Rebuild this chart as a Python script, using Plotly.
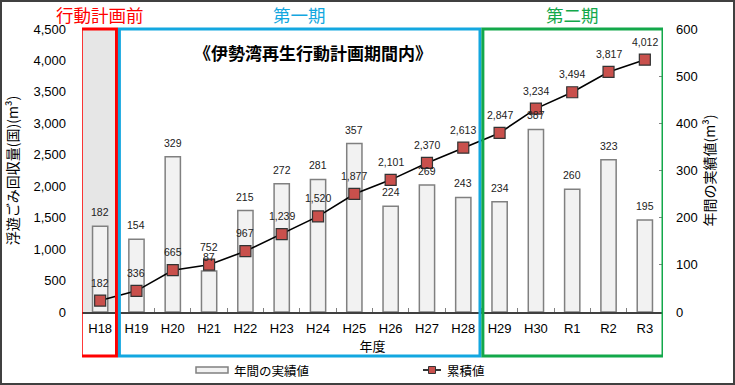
import plotly.graph_objects as go

years = ["H18", "H19", "H20", "H21", "H22", "H23", "H24", "H25",
         "H26", "H27", "H28", "H29", "H30", "R1", "R2", "R3"]
annual = [182, 154, 329, 87, 215, 272, 281, 357, 224, 269, 243, 234, 387, 260, 323, 195]
cumulative = [182, 336, 665, 752, 967, 1239, 1520, 1877, 2101, 2370, 2613,
              2847, 3234, 3494, 3817, 4012]
left_ticks = [0, 500, 1000, 1500, 2000, 2500, 3000, 3500, 4000, 4500]
right_ticks = [0, 100, 200, 300, 400, 500, 600]

W, H = 735, 385
ML, MR, MT, MB = 82, 72, 29, 73
PW, PH = W - ML - MR, H - MT - MB

def px(x):
    return (x - ML) / PW

def py(y):
    return 1 - (y - MT) / PH

FONT = "Liberation Sans, Arial, Noto Sans CJK JP, sans-serif"
JP = "Noto Sans CJK JP, sans-serif"
LABEL_FONT = dict(size=10.5, color="#222", family=FONT)

fig = go.Figure()
# bars on primary y (right side, annual), line on overlaying y2 (left side, cumulative)
fig.add_trace(go.Bar(
    x=years, y=annual, yaxis="y", name="年間の実績値",
    width=0.42,
    marker=dict(color="#f2f2f2", line=dict(color="#808080", width=1.5)),
    showlegend=False,
))
fig.add_trace(go.Scatter(
    x=years, y=cumulative, yaxis="y2", name="累積値",
    mode="lines+markers",
    line=dict(color="black", width=1.6),
    marker=dict(symbol="square", size=11, color="#c9504c",
                line=dict(color="#333", width=1.2)),
    cliponaxis=False, showlegend=False,
))

shapes = []
shapes.append(dict(type="rect", xref="x", yref="paper", x0=-0.5, x1=0.5, y0=0, y1=1,
                   fillcolor="#e6e6e6", line=dict(width=0), layer="below"))
ybot = py(356)
shapes.append(dict(type="rect", xref="x", yref="paper", x0=-0.5 - 0.02, x1=0.45, y0=ybot, y1=1,
                   line=dict(color="#ff0000", width=3)))
shapes.append(dict(type="rect", xref="x", yref="paper", x0=0.53, x1=10.46, y0=ybot, y1=1,
                   line=dict(color="#13a7e0", width=3)))
shapes.append(dict(type="rect", xref="x", yref="paper", x0=10.54, x1=15.5, y0=ybot, y1=1,
                   line=dict(color="#13a84a", width=3)))
shapes.append(dict(type="rect", xref="paper", yref="paper", x0=px(1), x1=px(734),
                   y0=py(384), y1=py(1), line=dict(color="#404040", width=2)))
shapes.append(dict(type="rect", xref="paper", yref="paper", x0=px(196), x1=px(228),
                   y0=py(373), y1=py(367), fillcolor="#f2f2f2",
                   line=dict(color="#808080", width=1.5)))
shapes.append(dict(type="line", xref="paper", yref="paper", x0=px(423), x1=px(441),
                   y0=py(370), y1=py(370), line=dict(color="black", width=1.6)))
shapes.append(dict(type="rect", xref="paper", yref="paper", x0=px(428.5), x1=px(435.5),
                   y0=py(373.5), y1=py(366.5), fillcolor="#c9504c",
                   line=dict(color="#333", width=1)))

annotations = [
    dict(text="行動計画前", x=0, xref="x", y=py(14), yref="paper", showarrow=False,
         xanchor="center", yanchor="middle",
         font=dict(size=17.5, color="#ff0000", family=JP)),
    dict(text="第一期", x=5.5, xref="x", y=py(14), yref="paper", showarrow=False,
         xanchor="center", yanchor="middle",
         font=dict(size=17.5, color="#13a7e0", family=JP)),
    dict(text="第二期", x=13, xref="x", y=py(14), yref="paper", showarrow=False,
         xanchor="center", yanchor="middle",
         font=dict(size=17.5, color="#13a84a", family=JP)),
    dict(text="<b>《伊勢湾再生行動計画期間内》</b>", x=px(313), xref="paper", y=py(52),
         yref="paper", showarrow=False, xanchor="center", yanchor="middle",
         font=dict(size=17, color="black", family=JP)),
    dict(text="年間の実績値", x=px(232), xref="paper", y=py(370), yref="paper",
         xanchor="left", yanchor="middle", showarrow=False,
         font=dict(size=12.5, color="black", family=JP)),
    dict(text="累積値", x=px(445), xref="paper", y=py(370), yref="paper",
         xanchor="left", yanchor="middle", showarrow=False,
         font=dict(size=12.5, color="black", family=JP)),
]
# data labels, placed through the axes
for xv, v in zip(years, annual):
    annotations.append(dict(text=str(v), x=xv, y=v, xref="x", yref="y",
                            showarrow=False, yshift=14, xanchor="center",
                            yanchor="middle", font=LABEL_FONT))
for xv, v in zip(years, cumulative):
    annotations.append(dict(text=f"{v:,}", x=xv, y=v, xref="x", yref="y2",
                            showarrow=False, yshift=18, xanchor="center",
                            yanchor="middle", font=LABEL_FONT))

fig.update_layout(
    width=W, height=H,
    margin=dict(l=ML, r=MR, t=MT, b=MB, pad=0),
    paper_bgcolor="white", plot_bgcolor="white",
    font=dict(family=FONT, size=13, color="black"),
    xaxis=dict(
        type="category", range=[-0.5, 15.5], showgrid=False,
        showline=True, linecolor="#404040", linewidth=1.5,
        ticks="inside", tickson="boundaries", ticklen=4, tickcolor="#808080",
        tickfont=dict(size=13, family=FONT), ticklabelstandoff=4,
        title=dict(text="年度", font=dict(size=13, family=JP), standoff=2),
    ),
    yaxis=dict(
        range=[0, 600], tickvals=right_ticks, side="right",
        showgrid=False, zeroline=False, showline=False,
        ticks="inside", ticklen=4, tickcolor="#808080",
        tickfont=dict(size=13, family=FONT), ticklabelstandoff=12,
        title=dict(text="年間の実績値(m³)", font=dict(size=14, family=JP), standoff=8),
    ),
    yaxis2=dict(
        range=[0, 4500], tickvals=left_ticks, tickformat=",", overlaying="y", side="left",
        showgrid=False, zeroline=False, showline=False, ticks="",
        tickfont=dict(size=13, family=FONT), ticklabelstandoff=15,
        title=dict(text="浮遊ごみ回収量(国)(m³)", font=dict(size=14, family=JP), standoff=11),
    ),
    shapes=shapes, annotations=annotations,
)

fig.write_html("out.html", config={"displayModeBar": False},
               post_script="document.body.style.margin='0';document.body.style.padding='0';")
